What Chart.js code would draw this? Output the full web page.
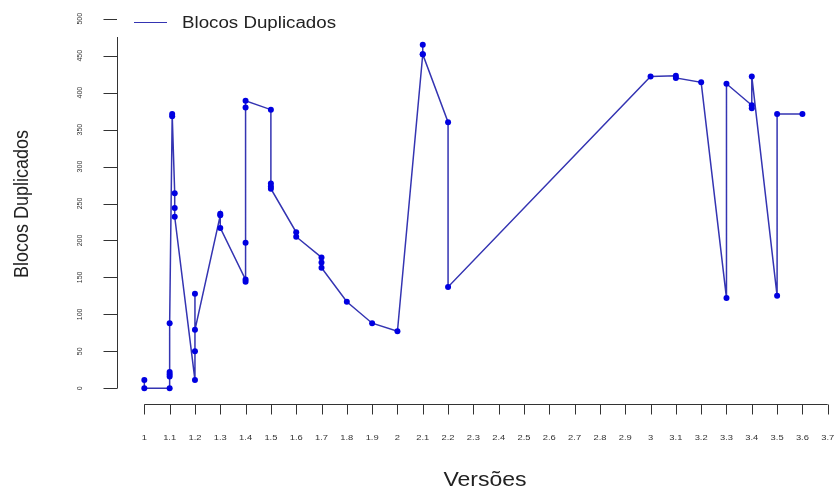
<!DOCTYPE html>
<html>
<head>
<meta charset="utf-8">
<script src="https://cdn.jsdelivr.net/npm/chart.js@4/dist/chart.umd.min.js"></script>
<style>
  html, body { margin: 0; padding: 0; background: #fff; }
  #wrap { width: 834px; height: 489px; }
</style>
</head>
<body>
<div id="wrap"><canvas id="chart"></canvas></div>
<script>
// versao de cada medicao e numero de blocos duplicados, na ordem em que foram ligados
let versoes = [1, 1, 1.1, 1.1, 1.1, 1.1, 1.1, 1.11, 1.11, 1.12, 1.12, 1.12,
    1.2, 1.2, 1.2, 1.2, 1.3, 1.3, 1.3, 1.4, 1.4, 1.4, 1.4, 1.4,
    1.5, 1.5, 1.5, 1.5, 1.6, 1.6, 1.7, 1.7, 1.7, 1.8, 1.9, 2,
    2.1, 2.1, 2.1, 2.2, 2.2, 3, 3.1, 3.1, 3.2, 3.3, 3.3,
    3.4, 3.4, 3.4, 3.5, 3.5, 3.6]
let blocos = [11, 0, 0, 16, 19, 22, 88, 368, 371, 264, 244, 232,
    11, 50, 128, 79, 234, 236, 217, 147, 144, 197, 380, 389,
    377, 277, 273, 270, 211, 205, 177, 170, 163, 117, 88, 77,
    452, 465, 452, 360, 137, 422, 423, 420, 414, 122, 412,
    383, 379, 422, 125, 371, 371]
let xTicks = [1, 1.1, 1.2, 1.3, 1.4, 1.5, 1.6, 1.7, 1.8, 1.9, 2, 2.1, 2.2, 2.3,
    2.4, 2.5, 2.6, 2.7, 2.8, 2.9, 3, 3.1, 3.2, 3.3, 3.4, 3.5, 3.6, 3.7]
let yTicks = [0, 50, 100, 150, 200, 250, 300, 350, 400, 450, 500]

let lineColor = 'rgb(52,52,178)'
let pointColor = 'rgb(0,0,225)'
let axisColor = '#333'

// texto um pouco esticado na horizontal, como no grafico original
let stretchText = (ctx, text, x, y, sx) => {
    ctx.save()
    ctx.translate(x, y)
    ctx.scale(sx, 1)
    ctx.fillText(text, 0, 0)
    ctx.restore()
}

let rAxes = {
    id: 'rAxes',
    beforeDatasetsDraw(chart) {
        let ctx = chart.ctx
        let xs = chart.scales.x
        let ys = chart.scales.y
        ctx.save()
        ctx.strokeStyle = axisColor
        ctx.fillStyle = axisColor
        ctx.lineWidth = 1

        // eixo x
        let yAxis = 404.5
        let x0 = xs.getPixelForValue(xTicks[0])
        let x1 = xs.getPixelForValue(xTicks[xTicks.length - 1])
        ctx.beginPath()
        ctx.moveTo(x0, yAxis)
        ctx.lineTo(x1, yAxis)
        xTicks.forEach(t => {
            let px = Math.round(xs.getPixelForValue(t)) + 0.5
            ctx.moveTo(px, yAxis)
            ctx.lineTo(px, yAxis + 10)
        })
        ctx.stroke()
        ctx.font = '8px "Liberation Sans", Arial, sans-serif'
        ctx.textAlign = 'center'
        ctx.textBaseline = 'alphabetic'
        xTicks.forEach(t => {
            stretchText(ctx, String(t), xs.getPixelForValue(t), 440, 1.17)
        })

        // eixo y
        let xAxis = 117.5
        let yTop = ys.getPixelForValue(yTicks[yTicks.length - 1])
        let yBottom = ys.getPixelForValue(yTicks[0])
        ctx.beginPath()
        ctx.moveTo(xAxis, yTop)
        ctx.lineTo(xAxis, yBottom)
        yTicks.forEach(t => {
            let py = Math.round(ys.getPixelForValue(t)) + 0.5
            ctx.moveTo(xAxis, py)
            ctx.lineTo(xAxis - 14, py)
        })
        ctx.stroke()
        ctx.font = '7px "Liberation Sans", Arial, sans-serif'
        ctx.textBaseline = 'middle'
        yTicks.forEach(t => {
            ctx.save()
            ctx.translate(80, ys.getPixelForValue(t))
            ctx.rotate(-Math.PI / 2)
            ctx.fillText(String(t), 0, 0)
            ctx.restore()
        })

        // titulos
        ctx.fillStyle = '#222'
        ctx.font = '20px "Liberation Sans", Arial, sans-serif'
        ctx.textBaseline = 'alphabetic'
        stretchText(ctx, 'Versões', 485, 486, 1.15)
        ctx.font = '18px "Liberation Sans", Arial, sans-serif'
        ctx.save()
        ctx.translate(28, 204)
        ctx.rotate(-Math.PI / 2)
        ctx.scale(1, 1.1)
        ctx.fillText('Blocos Duplicados', 0, 0)
        ctx.restore()
        ctx.restore()
    },
    afterDraw(chart) {
        // legenda no canto superior esquerdo, com fundo branco por cima do eixo
        let ctx = chart.ctx
        ctx.save()
        ctx.fillStyle = '#fff'
        ctx.fillRect(117, 0, 240, 37)
        ctx.strokeStyle = lineColor
        ctx.lineWidth = 1.2
        ctx.beginPath()
        ctx.moveTo(134, 22.5)
        ctx.lineTo(167, 22.5)
        ctx.stroke()
        ctx.fillStyle = '#222'
        ctx.font = '16px "Liberation Sans", Arial, sans-serif'
        ctx.textAlign = 'left'
        ctx.textBaseline = 'alphabetic'
        stretchText(ctx, 'Blocos Duplicados', 182, 27.5, 1.17)
        ctx.restore()
    }
}

let pontos = versoes.map((v, i) => ({ x: v, y: blocos[i] }))

let chart = new Chart('chart', {
    type: 'line',
    data: {
        datasets: [{
            label: 'Blocos Duplicados',
            data: pontos,
            borderColor: lineColor,
            borderWidth: 1.5,
            tension: 0,
            fill: false,
            pointRadius: 3,
            pointBorderWidth: 0,
            pointBackgroundColor: pointColor,
            pointStyle: 'circle',
            clip: false
        }]
    },
    options: {
        responsive: true,
        maintainAspectRatio: false,
        animation: false,
        events: [],
        layout: {
            padding: { left: 117, top: 3, right: 0, bottom: 86 }
        },
        plugins: {
            legend: { display: false },
            tooltip: { enabled: false }
        },
        scales: {
            x: { type: 'linear', display: false, min: 0.892, max: 3.709 },
            y: { type: 'linear', display: false, min: -20, max: 520 }
        }
    },
    plugins: [rAxes]
})
</script>
</body>
</html>
